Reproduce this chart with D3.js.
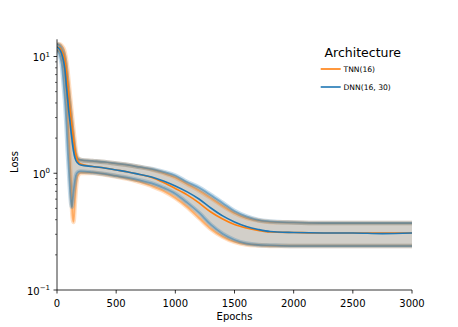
<!DOCTYPE html>
<html><head><meta charset="utf-8">
<script src="https://cdn.jsdelivr.net/npm/d3@7"></script>
<style>body{margin:0;background:#fff}svg{display:block}text{font-family:"DejaVu Sans",sans-serif}</style>
</head><body><svg id="c" width="458" height="327"></svg>
<script>
const epochs = [0,25,40,60,70,80,90,100,110,120,125,130,140,150,160,175,200,300,400,500,600,700,800,900,1000,1100,1200,1300,1400,1500,1600,1700,1800,2000,2250,2500,2750,3000];
const dnnMean  = [12.07,11.38,10.51,8.63,7.23,5.49,4.33,3.35,2.75,2.21,2.01,1.82,1.55,1.379,1.287,1.225,1.178,1.143,1.110,1.067,1.026,0.977,0.930,0.859,0.778,0.692,0.602,0.504,0.431,0.383,0.350,0.330,0.317,0.311,0.308,0.308,0.304,0.308];
const dnnUpper = [12.81,12.31,11.61,10.11,8.81,7.09,5.59,4.42,3.49,2.81,2.49,2.21,1.82,1.55,1.41,1.326,1.30,1.275,1.25,1.213,1.178,1.132,1.088,1.026,0.957,0.842,0.756,0.652,0.557,0.475,0.427,0.398,0.387,0.379,0.375,0.375,0.375,0.375];
const dnnLower = [11.38,10.11,8.63,5.17,3.85,2.59,1.58,1.067,0.719,0.546,0.514,0.557,0.692,0.826,0.948,1.016,1.036,1.016,0.986,0.948,0.911,0.868,0.818,0.748,0.665,0.557,0.457,0.361,0.302,0.268,0.250,0.243,0.241,0.238,0.238,0.238,0.238,0.238];
const tnnMean  = [12.07,11.84,11.16,9.91,8.81,7.37,5.82,4.50,3.49,2.86,2.59,2.35,1.93,1.615,1.435,1.275,1.201,1.143,1.110,1.067,1.026,0.977,0.921,0.834,0.741,0.652,0.557,0.466,0.406,0.364,0.340,0.324,0.314,0.311,0.308,0.308,0.308,0.308];
const tnnUpper = [12.81,12.68,12.31,11.38,10.31,8.98,7.37,5.82,4.59,3.63,3.22,2.86,2.30,1.854,1.522,1.352,1.30,1.275,1.25,1.213,1.178,1.132,1.078,1.006,0.921,0.810,0.712,0.614,0.525,0.457,0.414,0.394,0.383,0.379,0.375,0.375,0.375,0.375];
const tnnLower = [11.38,10.94,9.91,7.67,6.05,4.42,2.98,1.93,1.178,0.719,0.557,0.44,0.383,0.535,0.748,0.948,1.006,1.006,0.977,0.939,0.894,0.842,0.778,0.705,0.614,0.514,0.414,0.333,0.285,0.258,0.2455,0.241,0.238,0.238,0.238,0.238,0.238,0.238];
const seriesNames = ["TNN(16)","DNN(16, 30)"];
const seriesColors = ["#ff7f0e","#1f77b4"];
const xTicks = [0,500,1000,1500,2000,2500,3000];
const yTicks = [0.1,1,10];
const yTickExp = ["\u22121","0","1"];
const yMinor = [0.2,0.3,0.4,0.5,0.6,0.7,0.8,0.9,2,3,4,5,6,7,8,9];

const svg = d3.select("#c");
const L=57,R=412,T=39.3,B=290;
const x = d3.scaleLinear().domain([0,3000]).range([L,R]);
const y = d3.scaleLog().domain([0.1,14.04]).range([B,T]);

svg.append("defs").append("clipPath").attr("id","clip")
  .append("rect").attr("x",L).attr("y",T).attr("width",R-L).attr("height",B-T);
const plot = svg.append("g").attr("clip-path","url(#clip)");

const series = [
  {mean:tnnMean, lo:tnnLower, hi:tnnUpper, color:seriesColors[0]},
  {mean:dnnMean, lo:dnnLower, hi:dnnUpper, color:seriesColors[1]}
];
const area = d3.area().x((d,i)=>x(epochs[i])).y0(d=>y(d[0])).y1(d=>y(d[1])).curve(d3.curveMonotoneX);
const line = d3.line().x((d,i)=>x(epochs[i])).y(d=>y(d)).curve(d3.curveMonotoneX);

series.forEach(s=>{
  const pts = epochs.map((e,i)=>[s.lo[i],s.hi[i]]);
  plot.append("path").attr("d",area(pts)).attr("fill",s.color).attr("fill-opacity",0.2);
});
series.forEach(s=>{
  [s.lo,s.hi].forEach(arr=>{
    plot.append("path").attr("d",line(arr)).attr("fill","none").attr("stroke",s.color)
      .attr("stroke-opacity",0.25).attr("stroke-width",4.5);
    plot.append("path").attr("d",line(arr)).attr("fill","none").attr("stroke",s.color)
      .attr("stroke-opacity",0.45).attr("stroke-width",1.8);
  });
});
series.forEach(s=>{
  plot.append("path").attr("d",line(s.mean)).attr("fill","none").attr("stroke",s.color)
    .attr("stroke-width",1.6);
});

// axes
const ax = svg.append("g");
ax.append("line").attr("x1",L).attr("x2",R).attr("y1",B).attr("y2",B).attr("stroke","#000").attr("stroke-width",0.8);
ax.append("line").attr("x1",L).attr("x2",L).attr("y1",T).attr("y2",B).attr("stroke","#000").attr("stroke-width",0.8);
xTicks.forEach(t=>{
  ax.append("line").attr("x1",x(t)).attr("x2",x(t)).attr("y1",B).attr("y2",B+3.5).attr("stroke","#000").attr("stroke-width",0.8);
  ax.append("text").attr("x",x(t)).attr("y",B+16.5).attr("text-anchor","middle").attr("font-size",10).text(t);
});
yTicks.forEach((t,i)=>{
  ax.append("line").attr("x1",L-3.5).attr("x2",L).attr("y1",y(t)).attr("y2",y(t)).attr("stroke","#000").attr("stroke-width",0.8);
  const tx = ax.append("text").attr("x",L-7).attr("y",y(t)+4.5).attr("text-anchor","end").attr("font-size",10);
  tx.append("tspan").text("10");
  tx.append("tspan").attr("dy",-4.5).attr("font-size",7).text(yTickExp[i]);
});
yMinor.forEach(t=>{
  ax.append("line").attr("x1",L-2).attr("x2",L).attr("y1",y(t)).attr("y2",y(t)).attr("stroke","#000").attr("stroke-width",0.6);
});
svg.append("text").attr("x",(L+R)/2).attr("y",320).attr("text-anchor","middle").attr("font-size",10).text("Epochs");
svg.append("text").attr("transform","translate(18,162) rotate(-90)").attr("text-anchor","middle").attr("font-size",10).text("Loss");

// legend
const lg = svg.append("g");
lg.append("text").attr("x",362.8).attr("y",57).attr("text-anchor","middle").attr("font-size",12.5).text("Architecture");
seriesNames.forEach((n,i)=>{
  const ly = 69 + i*18;
  lg.append("line").attr("x1",320.7).attr("x2",340.7).attr("y1",ly).attr("y2",ly).attr("stroke",seriesColors[i]).attr("stroke-width",1.6);
  lg.append("text").attr("x",343.5).attr("y",ly+2.7).attr("font-size",7.6).text(n);
});
</script></body></html>
